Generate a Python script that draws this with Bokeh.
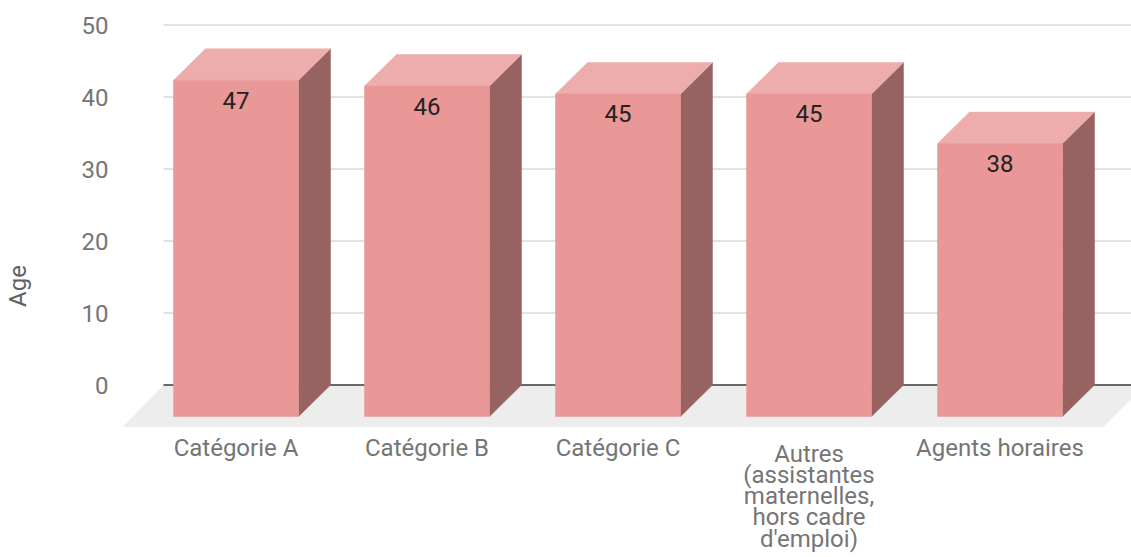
from bokeh.plotting import figure
from bokeh.models import Range1d, FixedTicker, ColumnDataSource
from bokeh.core.properties import value
from bokeh.embed import file_html
from bokeh.resources import INLINE

# ---- data ----
categories = ["Catégorie A", "Catégorie B", "Catégorie C",
              "Autres\n(assistantes\nmaternelles,\nhors cadre\nd'emploi)",
              "Agents horaires"]
ages = [46.7, 45.9, 44.8, 44.8, 37.9]
value_labels = [str(round(a)) for a in ages]
y_ticks = [0, 10, 20, 30, 40, 50]

# ---- layout constants (pixels) ----
W, H = 1131, 557
LEFT, TOP = 121, 14
CAT_PX = 191.0          # pixels per category
X0_PX = 235.5           # pixel x of first front-face centre
Y0_PX = 384.5           # pixel y of value 0
PX_PER_UNIT = 7.2       # pixels per year
FRONT_W_PX = 125.0
DEPTH_X_PX, DEPTH_Y_PX = 32.0, 31.5
FLOOR_DEPTH_PX = 42.0
GRID_LEFT_PX, FLOOR_FRONT_LEFT_PX = 163.0, 122.0

def xd(px):
    return (px - X0_PX) / CAT_PX

xmin = xd(LEFT)
xmax = xd(W)
ymax = (Y0_PX - TOP) / PX_PER_UNIT
ymin = -(H - Y0_PX) / PX_PER_UNIT

hw = FRONT_W_PX / 2 / CAT_PX
ddx = DEPTH_X_PX / CAT_PX
ddy = DEPTH_Y_PX / PX_PER_UNIT
fdx = FLOOR_DEPTH_PX / CAT_PX
fdy = FLOOR_DEPTH_PX / PX_PER_UNIT

FONT = "Roboto"
FS = "24px"

p = figure(width=W, height=H, x_range=Range1d(xmin, xmax), y_range=Range1d(ymin, ymax),
           output_backend="svg", toolbar_location=None, x_axis_type=None,
           min_border_left=LEFT, min_border_right=0, min_border_top=TOP, min_border_bottom=0)
p.outline_line_color = None
p.grid.visible = False
p.background_fill_color = "white"
p.border_fill_color = "white"

ax = p.yaxis[0]
ax.ticker = FixedTicker(ticks=y_ticks)
ax.axis_line_color = None
ax.major_tick_line_color = None
ax.minor_tick_line_color = None
ax.major_tick_out = 0
ax.major_tick_in = 0
ax.minor_tick_out = 0
ax.minor_tick_in = 0
ax.major_label_standoff = LEFT - 108
ax.major_label_text_font = FONT
ax.major_label_text_font_size = FS
ax.major_label_text_color = "#757575"
ax.axis_label = "Age"
ax.axis_label_text_font = FONT
ax.axis_label_text_font_size = FS
ax.axis_label_text_font_style = "normal"
ax.axis_label_text_color = "#616161"
ax.axis_label_standoff = 47

# gridlines
gx0 = xd(GRID_LEFT_PX)
p.segment(x0=[gx0] * (len(y_ticks) - 1), y0=y_ticks[1:], x1=[xmax] * (len(y_ticks) - 1), y1=y_ticks[1:],
          line_color="#d9d9d9", line_width=1.5)

# floor
floor_back_right = xd(1145)
floor_front_right = floor_back_right - fdx
p.patch(x=[gx0, floor_back_right, floor_front_right, xd(FLOOR_FRONT_LEFT_PX)],
        y=[0, 0, -fdy, -fdy], fill_color="#ededed", line_color=None)
# zero line
p.segment(x0=[gx0], y0=[0], x1=[xmax], y1=[0], line_color="#3a3a3a", line_width=1.5)

# bars
cx = list(range(len(categories)))
side_xs, side_ys, top_xs, top_ys, front_xs, front_ys = [], [], [], [], [], []
for c, v in zip(cx, ages):
    l, r = c - hw, c + hw
    side_xs.append([r, r + ddx, r + ddx, r])
    side_ys.append([-ddy, 0, v, v - ddy])
    top_xs.append([l, r, r + ddx, l + ddx])
    top_ys.append([v - ddy, v - ddy, v, v])
    front_xs.append([l, r, r, l])
    front_ys.append([-ddy, -ddy, v - ddy, v - ddy])

p.patches(xs=side_xs, ys=side_ys, fill_color="#966361", line_color="#966361", line_width=0.5)
p.patches(xs=top_xs, ys=top_ys, fill_color="#edadad", line_color="#edadad", line_width=0.5)
p.patches(xs=front_xs, ys=front_ys, fill_color="#e99797", line_color="#e99797", line_width=0.5)

# value labels
src = ColumnDataSource(dict(x=cx, y=[v - ddy for v in ages], t=value_labels))
p.text(x="x", y="y", text="t", source=src, text_align="center", text_baseline="middle",
       y_offset=20, text_font=value(FONT), text_font_size=FS, text_color="#222222")

# category labels (wrapped labels sit a little lower, as in the original)
offs = [23 if "\n" in c else 17 for c in categories]
src2 = ColumnDataSource(dict(x=cx, y=[-ddy] * len(cx), t=categories, off=offs))
p.text(x="x", y="y", text="t", source=src2, text_align="center", text_baseline="top",
       y_offset="off", text_font=value(FONT), text_font_size=FS, text_color="#757575",
       text_line_height=0.76)

open("out.html", "w").write(file_html(p, INLINE))
